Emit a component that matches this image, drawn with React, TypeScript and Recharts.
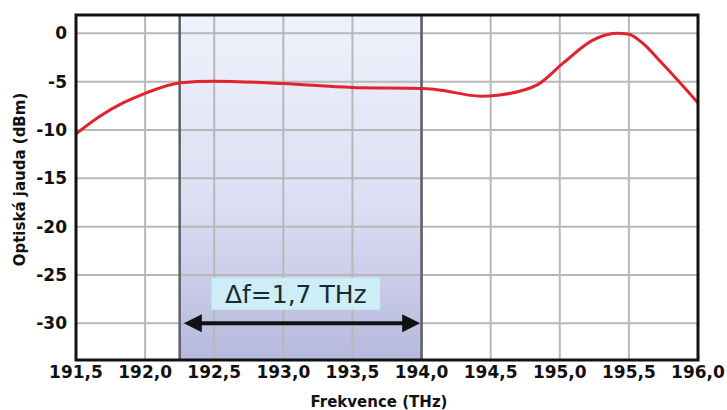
import {
  LineChart,
  Line,
  XAxis,
  YAxis,
  CartesianGrid,
  ReferenceArea,
  ReferenceLine
} from 'recharts'

// frequency (THz) and optical power (dBm)
const freq = [191.5, 191.67, 191.84, 192.0, 192.26, 192.5, 193.0, 193.5, 194.0, 194.1, 194.43, 194.55, 194.84, 195.03, 195.24, 195.41, 195.5, 195.59, 195.74, 196.0]
const power = [-10.4, -8.6, -7.2, -6.2, -5.1, -4.95, -5.2, -5.6, -5.7, -5.8, -6.5, -6.4, -5.3, -3.0, -0.7, 0.0, -0.1, -0.9, -3.1, -7.2]

const xTicks = [191.5, 192.0, 192.5, 193.0, 193.5, 194.0, 194.5, 195.0, 195.5, 196.0]
const yTicks = [0, -5, -10, -15, -20, -25, -30]

// bandwidth window
const bandStart = 192.25
const bandEnd = 194.0
const bandLabel = 'Δf=1,7 THz'

const data = freq.map((f, i) => ({ f, p: power[i] }))

const fmt = (v: number) => v.toFixed(1).replace('.', ',')

const tickStyle = { fill: '#111', fontSize: 17, fontWeight: 'bold', fontFamily: 'DejaVu Sans' }

// double headed arrow drawn on a reference segment
const Arrow = (props: any) => {
  const { x1, y1, x2, y2 } = props
  const a = Math.min(x1, x2)
  const b = Math.max(x1, x2)
  const h = 18
  const w = 9
  return (
    <g>
      <line x1={a + h - 2} y1={y1} x2={b - h + 2} y2={y2} stroke="#111" strokeWidth={4} />
      <polygon points={`${a},${y1} ${a + h},${y1 - w} ${a + h},${y1 + w}`} fill="#111" />
      <polygon points={`${b},${y2} ${b - h},${y2 - w} ${b - h},${y2 + w}`} fill="#111" />
    </g>
  )
}

export default function App() {
  return (
    <div style={{ position: 'absolute', left: 0, top: 0, background: '#fff' }}>
      <LineChart
        width={727}
        height={410}
        data={data}
        margin={{ top: 15, right: 29, left: 0, bottom: 0 }}
        style={{ fontFamily: 'DejaVu Sans' }}
      >
        <defs>
          <linearGradient id="bandGrad" x1="0" y1="0" x2="0" y2="1">
            <stop offset="0%" stopColor="#f0f2fc" />
            <stop offset="55%" stopColor="#dcdef3" />
            <stop offset="100%" stopColor="#b6b8dd" />
          </linearGradient>
        </defs>
        <ReferenceArea
          x1={bandStart}
          x2={bandEnd}
          y1={-33.8}
          y2={1.9}
          fill="url(#bandGrad)"
          fillOpacity={1}
          stroke="none"
          zIndex={-150}
        />
        <CartesianGrid stroke="#b8b8b8" strokeWidth={2} />
        <XAxis
          dataKey="f"
          type="number"
          domain={[191.5, 196]}
          ticks={xTicks}
          tickFormatter={fmt}
          allowDataOverflow
          interval={0}
          height={50}
          axisLine={false}
          tickLine={false}
          tickSize={0}
          tickMargin={6}
          tick={tickStyle}
          label={{
            value: 'Frekvence (THz)',
            position: 'insideBottom',
            offset: 3,
            dx: -8,
            style: { fill: '#111', fontSize: 15, fontWeight: 'bold', fontFamily: 'DejaVu Sans' }
          }}
        />
        <YAxis
          type="number"
          domain={[-33.8, 1.9]}
          ticks={yTicks}
          allowDataOverflow
          interval={0}
          width={76}
          axisLine={false}
          tickLine={false}
          tickSize={0}
          tickMargin={9}
          tick={tickStyle}
          label={{
            value: 'Optiská jauda (dBm)',
            angle: -90,
            position: 'insideLeft',
            offset: 20,
            dy: -8,
            style: { textAnchor: 'middle', fill: '#111', fontSize: 15, fontWeight: 'bold', fontFamily: 'DejaVu Sans' }
          }}
        />
        <ReferenceLine x={bandStart} stroke="#5e6068" strokeWidth={2.5} />
        <ReferenceLine x={bandEnd} stroke="#5e6068" strokeWidth={2.5} />
        <ReferenceArea
          x1={192.48}
          x2={193.7}
          y1={-28.6}
          y2={-25.3}
          fill="#cdeef6"
          fillOpacity={1}
          stroke="none"
          label={{ value: bandLabel, position: 'center', fontSize: 25, fill: '#1b2a30', fontFamily: 'DejaVu Sans' }}
        />
        <ReferenceLine
          segment={[{ x: 192.28, y: -30 }, { x: 193.99, y: -30 }]}
          shape={Arrow}
        />
        <Line
          type="monotone"
          dataKey="p"
          stroke="#e2232d"
          strokeWidth={3}
          dot={false}
          activeDot={false}
          isAnimationActive={false}
        />
        <ReferenceArea
          x1={191.5}
          x2={196}
          y1={-33.8}
          y2={1.9}
          fill="none"
          stroke="#111"
          strokeWidth={3}
          zIndex={1500}
        />
      </LineChart>
    </div>
  )
}
